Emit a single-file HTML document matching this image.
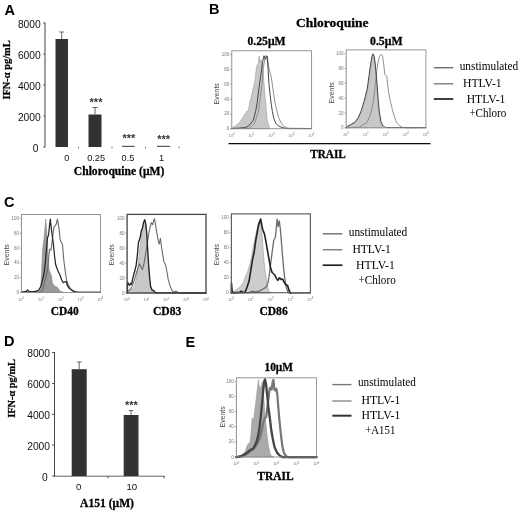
<!DOCTYPE html>
<html><head><meta charset="utf-8"><title>Figure</title>
<style>
html,body{margin:0;padding:0;background:#fff;}
body{width:520px;height:511px;overflow:hidden;font-family:"Liberation Sans",sans-serif;}
svg{display:block;}
</style></head><body>
<svg width="520" height="511" viewBox="0 0 520 511">
<rect width="520" height="511" fill="#fff"/>
<defs><filter id="bl" x="-2%" y="-2%" width="104%" height="104%"><feGaussianBlur stdDeviation="0.45"/></filter></defs>
<g id="all" filter="url(#bl)">
<text x="4.4" y="15" font-family="'Liberation Sans', sans-serif" font-size="14.5" font-weight="bold" text-anchor="start" fill="#000" >A</text>
<text x="208.9" y="14.2" font-family="'Liberation Sans', sans-serif" font-size="14.5" font-weight="bold" text-anchor="start" fill="#000" >B</text>
<text x="4.0" y="207" font-family="'Liberation Sans', sans-serif" font-size="14.5" font-weight="bold" text-anchor="start" fill="#000" >C</text>
<text x="4.0" y="345.6" font-family="'Liberation Sans', sans-serif" font-size="14.5" font-weight="bold" text-anchor="start" fill="#000" >D</text>
<text x="185.6" y="346.8" font-family="'Liberation Sans', sans-serif" font-size="14.5" font-weight="bold" text-anchor="start" fill="#000" >E</text>
<line x1="45" y1="22.5" x2="45" y2="147.5" stroke="#444" stroke-width="1"/>
<line x1="43.3" y1="147" x2="45" y2="147" stroke="#444" stroke-width="0.9"/>
<text x="38.5" y="152.2" font-family="'Liberation Sans', sans-serif" font-size="10.25" font-weight="normal" text-anchor="end" fill="#111" >0</text>
<line x1="43.3" y1="116" x2="45" y2="116" stroke="#444" stroke-width="0.9"/>
<text x="40.7" y="121.2" font-family="'Liberation Sans', sans-serif" font-size="10.25" font-weight="normal" text-anchor="end" fill="#111" >2000</text>
<line x1="43.3" y1="85" x2="45" y2="85" stroke="#444" stroke-width="0.9"/>
<text x="40.7" y="90.2" font-family="'Liberation Sans', sans-serif" font-size="10.25" font-weight="normal" text-anchor="end" fill="#111" >4000</text>
<line x1="43.3" y1="54" x2="45" y2="54" stroke="#444" stroke-width="0.9"/>
<text x="40.7" y="59.2" font-family="'Liberation Sans', sans-serif" font-size="10.25" font-weight="normal" text-anchor="end" fill="#111" >6000</text>
<line x1="43.3" y1="23" x2="45" y2="23" stroke="#444" stroke-width="0.9"/>
<text x="40.7" y="28.2" font-family="'Liberation Sans', sans-serif" font-size="10.25" font-weight="normal" text-anchor="end" fill="#111" >8000</text>
<line x1="78.5" y1="146.6" x2="78.5" y2="148.4" stroke="#666" stroke-width="0.9"/>
<line x1="112" y1="146.6" x2="112" y2="148.4" stroke="#666" stroke-width="0.9"/>
<line x1="145.5" y1="146.6" x2="145.5" y2="148.4" stroke="#666" stroke-width="0.9"/>
<line x1="179" y1="146.6" x2="179" y2="148.4" stroke="#666" stroke-width="0.9"/>
<rect x="55.5" y="39" width="12.5" height="108" fill="#333"/>
<line x1="61.7" y1="32" x2="61.7" y2="39" stroke="#555" stroke-width="0.9"/><line x1="59.2" y1="32" x2="64.2" y2="32" stroke="#555" stroke-width="0.9"/>
<rect x="88.5" y="114.5" width="13" height="32.5" fill="#333"/>
<line x1="95" y1="107.5" x2="95" y2="114.5" stroke="#555" stroke-width="0.9"/><line x1="92.5" y1="107.5" x2="97.5" y2="107.5" stroke="#555" stroke-width="0.9"/>
<line x1="122" y1="146.3" x2="134.5" y2="146.3" stroke="#333" stroke-width="1"/>
<line x1="157" y1="146.3" x2="170" y2="146.3" stroke="#333" stroke-width="1"/>
<text x="96" y="105.6" font-family="'Liberation Sans', sans-serif" font-size="11" font-weight="bold" text-anchor="middle" fill="#333" >***</text>
<text x="128.8" y="142.2" font-family="'Liberation Sans', sans-serif" font-size="11" font-weight="bold" text-anchor="middle" fill="#333" >***</text>
<text x="163.6" y="143.3" font-family="'Liberation Sans', sans-serif" font-size="11" font-weight="bold" text-anchor="middle" fill="#333" >***</text>
<text x="66.8" y="160.5" font-family="'Liberation Sans', sans-serif" font-size="9.2" font-weight="normal" text-anchor="middle" fill="#111" >0</text>
<text x="96.1" y="160.5" font-family="'Liberation Sans', sans-serif" font-size="9.2" font-weight="normal" text-anchor="middle" fill="#111" >0.25</text>
<text x="128" y="160.5" font-family="'Liberation Sans', sans-serif" font-size="9.2" font-weight="normal" text-anchor="middle" fill="#111" >0.5</text>
<text x="161.6" y="160.5" font-family="'Liberation Sans', sans-serif" font-size="9.2" font-weight="normal" text-anchor="middle" fill="#111" >1</text>
<text x="73.8" y="175.4" font-family="'Liberation Serif', serif" font-size="12" font-weight="bold" text-anchor="start" fill="#000" textLength="90.5" lengthAdjust="spacingAndGlyphs"  stroke="#000" stroke-width="0.3">Chloroquine (μM)</text>
<text transform="translate(10.3,70) rotate(-90)" font-family="'Liberation Serif', serif" font-size="10.4" font-weight="bold" fill="#000" stroke="#000" stroke-width="0.25" text-anchor="middle" textLength="59.2" lengthAdjust="spacingAndGlyphs">IFN-α pg/mL</text>
<line x1="54.5" y1="352" x2="54.5" y2="476.5" stroke="#444" stroke-width="1"/>
<line x1="54" y1="476.2" x2="164.5" y2="476.2" stroke="#444" stroke-width="0.85"/>
<line x1="52" y1="476" x2="54.5" y2="476" stroke="#444" stroke-width="0.9"/>
<text x="47.6" y="480.6" font-family="'Liberation Sans', sans-serif" font-size="10.25" font-weight="normal" text-anchor="end" fill="#111" >0</text>
<line x1="52" y1="445" x2="54.5" y2="445" stroke="#444" stroke-width="0.9"/>
<text x="50" y="449.6" font-family="'Liberation Sans', sans-serif" font-size="10.25" font-weight="normal" text-anchor="end" fill="#111" >2000</text>
<line x1="52" y1="414.3" x2="54.5" y2="414.3" stroke="#444" stroke-width="0.9"/>
<text x="50" y="418.90000000000003" font-family="'Liberation Sans', sans-serif" font-size="10.25" font-weight="normal" text-anchor="end" fill="#111" >4000</text>
<line x1="52" y1="383.5" x2="54.5" y2="383.5" stroke="#444" stroke-width="0.9"/>
<text x="50" y="388.1" font-family="'Liberation Sans', sans-serif" font-size="10.25" font-weight="normal" text-anchor="end" fill="#111" >6000</text>
<line x1="52" y1="352.5" x2="54.5" y2="352.5" stroke="#444" stroke-width="0.9"/>
<text x="50" y="357.1" font-family="'Liberation Sans', sans-serif" font-size="10.25" font-weight="normal" text-anchor="end" fill="#111" >8000</text>
<line x1="108" y1="476" x2="108" y2="478.3" stroke="#444" stroke-width="0.9"/>
<line x1="164.2" y1="476" x2="164.2" y2="478.3" stroke="#444" stroke-width="0.9"/>
<rect x="71.7" y="369.2" width="15" height="106.8" fill="#333"/>
<line x1="79.2" y1="362" x2="79.2" y2="369" stroke="#555" stroke-width="0.9"/><line x1="77" y1="362" x2="81.5" y2="362" stroke="#555" stroke-width="0.9"/>
<rect x="123.7" y="415" width="14.8" height="61" fill="#333"/>
<line x1="131" y1="410.5" x2="131" y2="415" stroke="#555" stroke-width="0.9"/><line x1="128.8" y1="410.5" x2="133.2" y2="410.5" stroke="#555" stroke-width="0.9"/>
<text x="131.4" y="409.2" font-family="'Liberation Sans', sans-serif" font-size="11" font-weight="bold" text-anchor="middle" fill="#333" >***</text>
<text x="78.8" y="489.5" font-family="'Liberation Sans', sans-serif" font-size="9.7" font-weight="normal" text-anchor="middle" fill="#111" >0</text>
<text x="131.8" y="489.5" font-family="'Liberation Sans', sans-serif" font-size="9.7" font-weight="normal" text-anchor="middle" fill="#111" >10</text>
<text x="80" y="507" font-family="'Liberation Serif', serif" font-size="12.5" font-weight="bold" text-anchor="start" fill="#000" textLength="54" lengthAdjust="spacingAndGlyphs"  stroke="#000" stroke-width="0.3">A151 (μM)</text>
<text transform="translate(15,388.4) rotate(-90)" font-family="'Liberation Serif', serif" font-size="10.4" font-weight="bold" fill="#000" stroke="#000" stroke-width="0.25" text-anchor="middle" textLength="58.7" lengthAdjust="spacingAndGlyphs">IFN-α pg/mL</text>
<text x="296" y="27" font-family="'Liberation Serif', serif" font-size="13.5" font-weight="bold" text-anchor="start" fill="#000" textLength="72.4" lengthAdjust="spacingAndGlyphs"  stroke="#000" stroke-width="0.3">Chloroquine</text>
<text x="247.5" y="45.1" font-family="'Liberation Serif', serif" font-size="12.5" font-weight="bold" text-anchor="start" fill="#000" textLength="38" lengthAdjust="spacingAndGlyphs"  stroke="#000" stroke-width="0.3">0.25μM</text>
<text x="370" y="45.1" font-family="'Liberation Serif', serif" font-size="12.5" font-weight="bold" text-anchor="start" fill="#000" textLength="32.5" lengthAdjust="spacingAndGlyphs"  stroke="#000" stroke-width="0.3">0.5μM</text>
<line x1="228.5" y1="143.6" x2="430.5" y2="143.6" stroke="#111" stroke-width="1.4"/>
<text x="310.2" y="158.2" font-family="'Liberation Serif', serif" font-size="12" font-weight="bold" text-anchor="start" fill="#000" textLength="35.6" lengthAdjust="spacingAndGlyphs"  stroke="#000" stroke-width="0.3">TRAIL</text>
<polygon points="231.7,128.7 231.7,127.8 235.7,125.8 239.6,122.3 243.5,116.4 246.4,111.5 248.4,110.5 249.7,102.7 251.3,96.8 253.3,88.0 255.2,79.2 256.4,67.5 257.2,65.5 258.2,63.6 259.1,56.1 260.1,62.0 261.5,59.7 262.7,67.5 264.0,83.1 265.4,100.8 267.0,118.4 268.5,125.2 270.1,128.7" fill="#c8c8c8" stroke="#999" stroke-width="0.6" stroke-linejoin="round"/>
<polyline points="231.7,128.7 249.4,128.1 254.2,124.2 258.2,112.5 260.1,98.8 262.1,83.1 263.4,67.5 265.0,57.7 266.2,55.4 267.4,56.5 268.5,65.5 269.7,71.4 271.3,77.3 272.4,85.1 273.8,94.9 275.2,103.7 276.8,110.5 278.7,117.4 280.7,122.3 283.6,126.2 286.5,128.1 290.5,128.7 311.6,128.7" fill="none" stroke="#858585" stroke-width="0.9" stroke-linejoin="round" stroke-linecap="round"/>
<polyline points="231.7,128.5 239.6,128.1 245.4,127.6 249.4,125.2 253.3,120.3 255.6,111.5 257.2,102.7 259.1,87.1 261.1,73.4 262.7,61.6 264.0,55.7 265.4,59.3 267.0,56.1 268.1,69.4 268.9,83.1 270.1,94.9 271.3,104.7 272.4,111.5 273.8,118.4 275.8,123.3 278.7,126.2 284.6,128.3 311.6,128.5" fill="none" stroke="#444" stroke-width="1.0" stroke-linejoin="round" stroke-linecap="round"/>
<rect x="231.8" y="50.8" width="79.80000000000001" height="77.89999999999999" fill="none" stroke="#8a8a8a" stroke-width="0.9"/>
<line x1="230.0" y1="128.7" x2="231.8" y2="128.7" stroke="#777" stroke-width="0.6"/>
<text x="229.2" y="130.2" font-family="'Liberation Sans', sans-serif" font-size="4.5" font-weight="normal" text-anchor="end" fill="#777" >0</text>
<line x1="230.0" y1="113.9" x2="231.8" y2="113.9" stroke="#777" stroke-width="0.6"/>
<text x="229.2" y="115.4" font-family="'Liberation Sans', sans-serif" font-size="4.5" font-weight="normal" text-anchor="end" fill="#777" >20</text>
<line x1="230.0" y1="99.1" x2="231.8" y2="99.1" stroke="#777" stroke-width="0.6"/>
<text x="229.2" y="100.6" font-family="'Liberation Sans', sans-serif" font-size="4.5" font-weight="normal" text-anchor="end" fill="#777" >40</text>
<line x1="230.0" y1="84.2" x2="231.8" y2="84.2" stroke="#777" stroke-width="0.6"/>
<text x="229.2" y="85.7" font-family="'Liberation Sans', sans-serif" font-size="4.5" font-weight="normal" text-anchor="end" fill="#777" >60</text>
<line x1="230.0" y1="69.4" x2="231.8" y2="69.4" stroke="#777" stroke-width="0.6"/>
<text x="229.2" y="70.9" font-family="'Liberation Sans', sans-serif" font-size="4.5" font-weight="normal" text-anchor="end" fill="#777" >80</text>
<line x1="230.0" y1="54.6" x2="231.8" y2="54.6" stroke="#777" stroke-width="0.6"/>
<text x="229.2" y="56.1" font-family="'Liberation Sans', sans-serif" font-size="4.5" font-weight="normal" text-anchor="end" fill="#777" >100</text>
<line x1="230.8" y1="128.7" x2="231.8" y2="128.7" stroke="#999" stroke-width="0.4"/>
<line x1="230.8" y1="125.7" x2="231.8" y2="125.7" stroke="#999" stroke-width="0.4"/>
<line x1="230.8" y1="122.8" x2="231.8" y2="122.8" stroke="#999" stroke-width="0.4"/>
<line x1="230.8" y1="119.8" x2="231.8" y2="119.8" stroke="#999" stroke-width="0.4"/>
<line x1="230.8" y1="116.8" x2="231.8" y2="116.8" stroke="#999" stroke-width="0.4"/>
<line x1="230.8" y1="113.9" x2="231.8" y2="113.9" stroke="#999" stroke-width="0.4"/>
<line x1="230.8" y1="110.9" x2="231.8" y2="110.9" stroke="#999" stroke-width="0.4"/>
<line x1="230.8" y1="108.0" x2="231.8" y2="108.0" stroke="#999" stroke-width="0.4"/>
<line x1="230.8" y1="105.0" x2="231.8" y2="105.0" stroke="#999" stroke-width="0.4"/>
<line x1="230.8" y1="102.0" x2="231.8" y2="102.0" stroke="#999" stroke-width="0.4"/>
<line x1="230.8" y1="99.1" x2="231.8" y2="99.1" stroke="#999" stroke-width="0.4"/>
<line x1="230.8" y1="96.1" x2="231.8" y2="96.1" stroke="#999" stroke-width="0.4"/>
<line x1="230.8" y1="93.1" x2="231.8" y2="93.1" stroke="#999" stroke-width="0.4"/>
<line x1="230.8" y1="90.2" x2="231.8" y2="90.2" stroke="#999" stroke-width="0.4"/>
<line x1="230.8" y1="87.2" x2="231.8" y2="87.2" stroke="#999" stroke-width="0.4"/>
<line x1="230.8" y1="84.2" x2="231.8" y2="84.2" stroke="#999" stroke-width="0.4"/>
<line x1="230.8" y1="81.3" x2="231.8" y2="81.3" stroke="#999" stroke-width="0.4"/>
<line x1="230.8" y1="78.3" x2="231.8" y2="78.3" stroke="#999" stroke-width="0.4"/>
<line x1="230.8" y1="75.3" x2="231.8" y2="75.3" stroke="#999" stroke-width="0.4"/>
<line x1="230.8" y1="72.4" x2="231.8" y2="72.4" stroke="#999" stroke-width="0.4"/>
<line x1="230.8" y1="69.4" x2="231.8" y2="69.4" stroke="#999" stroke-width="0.4"/>
<line x1="230.8" y1="66.5" x2="231.8" y2="66.5" stroke="#999" stroke-width="0.4"/>
<line x1="230.8" y1="63.5" x2="231.8" y2="63.5" stroke="#999" stroke-width="0.4"/>
<line x1="230.8" y1="60.5" x2="231.8" y2="60.5" stroke="#999" stroke-width="0.4"/>
<line x1="230.8" y1="57.6" x2="231.8" y2="57.6" stroke="#999" stroke-width="0.4"/>
<line x1="230.8" y1="54.6" x2="231.8" y2="54.6" stroke="#999" stroke-width="0.4"/>
<text x="231.5" y="137.1" font-family="'Liberation Sans', sans-serif" font-size="3.8" fill="#808080" text-anchor="middle" font-style="italic">10<tspan dy="-1.9" font-size="3">0</tspan></text>
<text x="251.4" y="137.1" font-family="'Liberation Sans', sans-serif" font-size="3.8" fill="#808080" text-anchor="middle" font-style="italic">10<tspan dy="-1.9" font-size="3">1</tspan></text>
<text x="271.4" y="137.1" font-family="'Liberation Sans', sans-serif" font-size="3.8" fill="#808080" text-anchor="middle" font-style="italic">10<tspan dy="-1.9" font-size="3">2</tspan></text>
<text x="291.4" y="137.1" font-family="'Liberation Sans', sans-serif" font-size="3.8" fill="#808080" text-anchor="middle" font-style="italic">10<tspan dy="-1.9" font-size="3">3</tspan></text>
<text x="311.3" y="137.1" font-family="'Liberation Sans', sans-serif" font-size="3.8" fill="#808080" text-anchor="middle" font-style="italic">10<tspan dy="-1.9" font-size="3">4</tspan></text>
<text transform="translate(219.1,93.8) rotate(-90)" font-family="'Liberation Sans', sans-serif" font-size="7.2" fill="#4a4a4a" text-anchor="middle" textLength="21.2" lengthAdjust="spacingAndGlyphs">Events</text>
<polygon points="346.0,127.8 346.0,127.2 349.6,125.8 353.5,123.3 357.4,119.3 361.3,112.5 363.3,106.6 366.2,96.8 368.2,86.1 370.1,73.4 371.5,61.6 372.7,54.6 373.8,57.7 375.0,63.6 376.6,83.1 377.9,102.7 379.3,116.4 380.9,124.2 382.8,127.8" fill="#c8c8c8" stroke="#999" stroke-width="0.6" stroke-linejoin="round"/>
<polyline points="346.0,127.8 359.4,127.2 364.2,124.2 367.2,122.3 370.1,115.4 372.1,108.6 374.0,96.8 375.4,83.1 377.0,69.4 378.1,61.6 379.7,56.1 381.3,54.2 382.4,55.7 383.4,61.6 384.8,74.3 386.8,76.3 387.7,85.1 388.7,92.9 390.7,102.7 392.6,110.5 394.6,117.4 396.5,122.3 399.5,125.8 402.4,127.4 406.3,127.8 425.9,127.8" fill="none" stroke="#858585" stroke-width="0.9" stroke-linejoin="round" stroke-linecap="round"/>
<polyline points="346.0,127.6 347.6,126.2 351.5,124.2 355.4,121.9 358.4,117.4 361.3,110.5 364.2,100.8 367.2,89.0 369.1,75.3 370.7,63.6 371.9,56.7 373.1,53.8 374.2,56.1 375.4,65.5 377.0,83.1 378.1,98.8 379.3,111.5 380.9,121.3 382.8,125.8 385.8,127.6 425.9,127.6" fill="none" stroke="#444" stroke-width="1.0" stroke-linejoin="round" stroke-linecap="round"/>
<rect x="346.2" y="49.9" width="79.69999999999999" height="77.9" fill="none" stroke="#8a8a8a" stroke-width="0.9"/>
<line x1="344.4" y1="127.8" x2="346.2" y2="127.8" stroke="#777" stroke-width="0.6"/>
<text x="343.6" y="129.3" font-family="'Liberation Sans', sans-serif" font-size="4.5" font-weight="normal" text-anchor="end" fill="#777" >0</text>
<line x1="344.4" y1="113.0" x2="346.2" y2="113.0" stroke="#777" stroke-width="0.6"/>
<text x="343.6" y="114.5" font-family="'Liberation Sans', sans-serif" font-size="4.5" font-weight="normal" text-anchor="end" fill="#777" >20</text>
<line x1="344.4" y1="98.2" x2="346.2" y2="98.2" stroke="#777" stroke-width="0.6"/>
<text x="343.6" y="99.7" font-family="'Liberation Sans', sans-serif" font-size="4.5" font-weight="normal" text-anchor="end" fill="#777" >40</text>
<line x1="344.4" y1="83.3" x2="346.2" y2="83.3" stroke="#777" stroke-width="0.6"/>
<text x="343.6" y="84.8" font-family="'Liberation Sans', sans-serif" font-size="4.5" font-weight="normal" text-anchor="end" fill="#777" >60</text>
<line x1="344.4" y1="68.5" x2="346.2" y2="68.5" stroke="#777" stroke-width="0.6"/>
<text x="343.6" y="70.0" font-family="'Liberation Sans', sans-serif" font-size="4.5" font-weight="normal" text-anchor="end" fill="#777" >80</text>
<line x1="344.4" y1="53.7" x2="346.2" y2="53.7" stroke="#777" stroke-width="0.6"/>
<text x="343.6" y="55.2" font-family="'Liberation Sans', sans-serif" font-size="4.5" font-weight="normal" text-anchor="end" fill="#777" >100</text>
<line x1="345.2" y1="127.8" x2="346.2" y2="127.8" stroke="#999" stroke-width="0.4"/>
<line x1="345.2" y1="124.8" x2="346.2" y2="124.8" stroke="#999" stroke-width="0.4"/>
<line x1="345.2" y1="121.9" x2="346.2" y2="121.9" stroke="#999" stroke-width="0.4"/>
<line x1="345.2" y1="118.9" x2="346.2" y2="118.9" stroke="#999" stroke-width="0.4"/>
<line x1="345.2" y1="115.9" x2="346.2" y2="115.9" stroke="#999" stroke-width="0.4"/>
<line x1="345.2" y1="113.0" x2="346.2" y2="113.0" stroke="#999" stroke-width="0.4"/>
<line x1="345.2" y1="110.0" x2="346.2" y2="110.0" stroke="#999" stroke-width="0.4"/>
<line x1="345.2" y1="107.1" x2="346.2" y2="107.1" stroke="#999" stroke-width="0.4"/>
<line x1="345.2" y1="104.1" x2="346.2" y2="104.1" stroke="#999" stroke-width="0.4"/>
<line x1="345.2" y1="101.1" x2="346.2" y2="101.1" stroke="#999" stroke-width="0.4"/>
<line x1="345.2" y1="98.2" x2="346.2" y2="98.2" stroke="#999" stroke-width="0.4"/>
<line x1="345.2" y1="95.2" x2="346.2" y2="95.2" stroke="#999" stroke-width="0.4"/>
<line x1="345.2" y1="92.2" x2="346.2" y2="92.2" stroke="#999" stroke-width="0.4"/>
<line x1="345.2" y1="89.3" x2="346.2" y2="89.3" stroke="#999" stroke-width="0.4"/>
<line x1="345.2" y1="86.3" x2="346.2" y2="86.3" stroke="#999" stroke-width="0.4"/>
<line x1="345.2" y1="83.3" x2="346.2" y2="83.3" stroke="#999" stroke-width="0.4"/>
<line x1="345.2" y1="80.4" x2="346.2" y2="80.4" stroke="#999" stroke-width="0.4"/>
<line x1="345.2" y1="77.4" x2="346.2" y2="77.4" stroke="#999" stroke-width="0.4"/>
<line x1="345.2" y1="74.4" x2="346.2" y2="74.4" stroke="#999" stroke-width="0.4"/>
<line x1="345.2" y1="71.5" x2="346.2" y2="71.5" stroke="#999" stroke-width="0.4"/>
<line x1="345.2" y1="68.5" x2="346.2" y2="68.5" stroke="#999" stroke-width="0.4"/>
<line x1="345.2" y1="65.6" x2="346.2" y2="65.6" stroke="#999" stroke-width="0.4"/>
<line x1="345.2" y1="62.6" x2="346.2" y2="62.6" stroke="#999" stroke-width="0.4"/>
<line x1="345.2" y1="59.6" x2="346.2" y2="59.6" stroke="#999" stroke-width="0.4"/>
<line x1="345.2" y1="56.7" x2="346.2" y2="56.7" stroke="#999" stroke-width="0.4"/>
<line x1="345.2" y1="53.7" x2="346.2" y2="53.7" stroke="#999" stroke-width="0.4"/>
<text x="345.9" y="136.2" font-family="'Liberation Sans', sans-serif" font-size="3.8" fill="#808080" text-anchor="middle" font-style="italic">10<tspan dy="-1.9" font-size="3">0</tspan></text>
<text x="365.8" y="136.2" font-family="'Liberation Sans', sans-serif" font-size="3.8" fill="#808080" text-anchor="middle" font-style="italic">10<tspan dy="-1.9" font-size="3">1</tspan></text>
<text x="385.7" y="136.2" font-family="'Liberation Sans', sans-serif" font-size="3.8" fill="#808080" text-anchor="middle" font-style="italic">10<tspan dy="-1.9" font-size="3">2</tspan></text>
<text x="405.7" y="136.2" font-family="'Liberation Sans', sans-serif" font-size="3.8" fill="#808080" text-anchor="middle" font-style="italic">10<tspan dy="-1.9" font-size="3">3</tspan></text>
<text x="425.6" y="136.2" font-family="'Liberation Sans', sans-serif" font-size="3.8" fill="#808080" text-anchor="middle" font-style="italic">10<tspan dy="-1.9" font-size="3">4</tspan></text>
<text transform="translate(333.5,92.8) rotate(-90)" font-family="'Liberation Sans', sans-serif" font-size="7.2" fill="#4a4a4a" text-anchor="middle" textLength="21.2" lengthAdjust="spacingAndGlyphs">Events</text>
<line x1="433.8" y1="67.7" x2="453.3" y2="67.7" stroke="#707070" stroke-width="1.45"/>
<line x1="433.8" y1="83.8" x2="453.3" y2="83.8" stroke="#808080" stroke-width="1.45"/>
<line x1="433.8" y1="99" x2="453.3" y2="99" stroke="#222" stroke-width="1.7"/>
<text x="459.7" y="69.5" font-family="'Liberation Serif', serif" font-size="11.6" font-weight="normal" text-anchor="start" fill="#000" textLength="58.5" lengthAdjust="spacingAndGlyphs" >unstimulated</text>
<text x="463" y="86.5" font-family="'Liberation Serif', serif" font-size="11.6" font-weight="normal" text-anchor="start" fill="#000" textLength="38.7" lengthAdjust="spacingAndGlyphs" >HTLV-1</text>
<text x="466.7" y="102.6" font-family="'Liberation Serif', serif" font-size="11.6" font-weight="normal" text-anchor="start" fill="#000" textLength="38.7" lengthAdjust="spacingAndGlyphs" >HTLV-1</text>
<text x="469.4" y="117.2" font-family="'Liberation Serif', serif" font-size="11.6" font-weight="normal" text-anchor="start" fill="#000" textLength="36.9" lengthAdjust="spacingAndGlyphs" >+Chloro</text>
<polygon points="39.1,292.3 40.8,288.1 41.6,273.2 42.5,251.6 43.3,243.2 44.1,238.3 44.9,228.3 45.8,219.1 46.6,229.9 47.4,239.9 48.3,259.9 49.1,269.8 50.8,274.0 51.6,276.5 52.4,283.1 54.1,285.6 55.7,286.5 57.4,287.3 59.1,289.8 60.7,291.4 63.2,292.3" fill="#9a9a9a" stroke="#888" stroke-width="0.6" stroke-linejoin="round"/>
<polyline points="21.5,292.3 41.6,291.9 43.3,288.1 44.9,279.8 46.6,274.8 47.9,266.5 49.1,253.2 49.9,249.1 51.1,249.9 51.9,243.2 52.9,234.9 54.1,226.6 55.2,225.8 56.2,224.1 57.4,219.1 58.2,223.3 59.1,229.1 60.2,239.9 61.6,242.4 62.6,245.7 63.6,258.2 64.6,266.5 65.7,274.8 66.9,281.5 68.5,285.6 70.7,288.9 73.2,291.1 76.5,292.3 100.3,292.3" fill="none" stroke="#6a6a6a" stroke-width="1.1" stroke-linejoin="round" stroke-linecap="round"/>
<polyline points="21.5,291.9 25.0,291.9 26.3,291.4 27.5,289.8 28.7,291.4 31.6,291.9 35.0,291.4 38.3,290.6 40.8,286.5 42.5,279.8 44.1,273.2 45.3,263.2 46.3,251.6 47.4,238.3 48.6,234.9 49.4,226.6 50.3,219.1 51.1,226.6 51.9,233.3 53.3,243.2 54.6,256.5 55.7,264.8 56.9,268.2 58.2,271.5 59.9,274.8 61.6,279.8 63.2,282.8 64.9,281.8 66.2,281.5 67.4,285.6 69.0,288.1 71.5,290.1 74.9,291.8 79.8,292.3 100.3,292.3" fill="none" stroke="#222" stroke-width="1.2" stroke-linejoin="round" stroke-linecap="round"/>
<rect x="21.5" y="214.5" width="79.0" height="78.0" fill="none" stroke="#8a8a8a" stroke-width="0.9"/>
<line x1="19.7" y1="292.5" x2="21.5" y2="292.5" stroke="#777" stroke-width="0.6"/>
<text x="18.9" y="294.0" font-family="'Liberation Sans', sans-serif" font-size="4.5" font-weight="normal" text-anchor="end" fill="#777" >0</text>
<line x1="19.7" y1="277.7" x2="21.5" y2="277.7" stroke="#777" stroke-width="0.6"/>
<text x="18.9" y="279.2" font-family="'Liberation Sans', sans-serif" font-size="4.5" font-weight="normal" text-anchor="end" fill="#777" >20</text>
<line x1="19.7" y1="262.8" x2="21.5" y2="262.8" stroke="#777" stroke-width="0.6"/>
<text x="18.9" y="264.3" font-family="'Liberation Sans', sans-serif" font-size="4.5" font-weight="normal" text-anchor="end" fill="#777" >40</text>
<line x1="19.7" y1="248.0" x2="21.5" y2="248.0" stroke="#777" stroke-width="0.6"/>
<text x="18.9" y="249.5" font-family="'Liberation Sans', sans-serif" font-size="4.5" font-weight="normal" text-anchor="end" fill="#777" >60</text>
<line x1="19.7" y1="233.1" x2="21.5" y2="233.1" stroke="#777" stroke-width="0.6"/>
<text x="18.9" y="234.6" font-family="'Liberation Sans', sans-serif" font-size="4.5" font-weight="normal" text-anchor="end" fill="#777" >80</text>
<line x1="19.7" y1="218.3" x2="21.5" y2="218.3" stroke="#777" stroke-width="0.6"/>
<text x="18.9" y="219.8" font-family="'Liberation Sans', sans-serif" font-size="4.5" font-weight="normal" text-anchor="end" fill="#777" >100</text>
<line x1="20.5" y1="292.5" x2="21.5" y2="292.5" stroke="#999" stroke-width="0.4"/>
<line x1="20.5" y1="289.5" x2="21.5" y2="289.5" stroke="#999" stroke-width="0.4"/>
<line x1="20.5" y1="286.6" x2="21.5" y2="286.6" stroke="#999" stroke-width="0.4"/>
<line x1="20.5" y1="283.6" x2="21.5" y2="283.6" stroke="#999" stroke-width="0.4"/>
<line x1="20.5" y1="280.6" x2="21.5" y2="280.6" stroke="#999" stroke-width="0.4"/>
<line x1="20.5" y1="277.7" x2="21.5" y2="277.7" stroke="#999" stroke-width="0.4"/>
<line x1="20.5" y1="274.7" x2="21.5" y2="274.7" stroke="#999" stroke-width="0.4"/>
<line x1="20.5" y1="271.7" x2="21.5" y2="271.7" stroke="#999" stroke-width="0.4"/>
<line x1="20.5" y1="268.8" x2="21.5" y2="268.8" stroke="#999" stroke-width="0.4"/>
<line x1="20.5" y1="265.8" x2="21.5" y2="265.8" stroke="#999" stroke-width="0.4"/>
<line x1="20.5" y1="262.8" x2="21.5" y2="262.8" stroke="#999" stroke-width="0.4"/>
<line x1="20.5" y1="259.9" x2="21.5" y2="259.9" stroke="#999" stroke-width="0.4"/>
<line x1="20.5" y1="256.9" x2="21.5" y2="256.9" stroke="#999" stroke-width="0.4"/>
<line x1="20.5" y1="253.9" x2="21.5" y2="253.9" stroke="#999" stroke-width="0.4"/>
<line x1="20.5" y1="250.9" x2="21.5" y2="250.9" stroke="#999" stroke-width="0.4"/>
<line x1="20.5" y1="248.0" x2="21.5" y2="248.0" stroke="#999" stroke-width="0.4"/>
<line x1="20.5" y1="245.0" x2="21.5" y2="245.0" stroke="#999" stroke-width="0.4"/>
<line x1="20.5" y1="242.0" x2="21.5" y2="242.0" stroke="#999" stroke-width="0.4"/>
<line x1="20.5" y1="239.1" x2="21.5" y2="239.1" stroke="#999" stroke-width="0.4"/>
<line x1="20.5" y1="236.1" x2="21.5" y2="236.1" stroke="#999" stroke-width="0.4"/>
<line x1="20.5" y1="233.1" x2="21.5" y2="233.1" stroke="#999" stroke-width="0.4"/>
<line x1="20.5" y1="230.2" x2="21.5" y2="230.2" stroke="#999" stroke-width="0.4"/>
<line x1="20.5" y1="227.2" x2="21.5" y2="227.2" stroke="#999" stroke-width="0.4"/>
<line x1="20.5" y1="224.2" x2="21.5" y2="224.2" stroke="#999" stroke-width="0.4"/>
<line x1="20.5" y1="221.3" x2="21.5" y2="221.3" stroke="#999" stroke-width="0.4"/>
<line x1="20.5" y1="218.3" x2="21.5" y2="218.3" stroke="#999" stroke-width="0.4"/>
<text x="21.2" y="300.9" font-family="'Liberation Sans', sans-serif" font-size="3.8" fill="#808080" text-anchor="middle" font-style="italic">10<tspan dy="-1.9" font-size="3">0</tspan></text>
<text x="41.0" y="300.9" font-family="'Liberation Sans', sans-serif" font-size="3.8" fill="#808080" text-anchor="middle" font-style="italic">10<tspan dy="-1.9" font-size="3">1</tspan></text>
<text x="60.7" y="300.9" font-family="'Liberation Sans', sans-serif" font-size="3.8" fill="#808080" text-anchor="middle" font-style="italic">10<tspan dy="-1.9" font-size="3">2</tspan></text>
<text x="80.5" y="300.9" font-family="'Liberation Sans', sans-serif" font-size="3.8" fill="#808080" text-anchor="middle" font-style="italic">10<tspan dy="-1.9" font-size="3">3</tspan></text>
<text x="100.2" y="300.9" font-family="'Liberation Sans', sans-serif" font-size="3.8" fill="#808080" text-anchor="middle" font-style="italic">10<tspan dy="-1.9" font-size="3">4</tspan></text>
<text transform="translate(8.8,254.8) rotate(-90)" font-family="'Liberation Sans', sans-serif" font-size="7.2" fill="#4a4a4a" text-anchor="middle" textLength="21.2" lengthAdjust="spacingAndGlyphs">Events</text>
<polygon points="127.1,293.1 127.1,292.7 128.7,291.1 131.6,289.5 134.6,286.2 136.1,279.4 137.5,271.5 138.9,257.8 140.4,244.1 141.6,234.4 142.8,226.5 144.0,221.6 144.9,220.3 145.9,224.6 146.9,236.3 147.9,253.9 148.9,269.6 150.2,283.3 151.8,289.5 154.1,292.5 156.1,293.1" fill="#c8c8c8" stroke="#999" stroke-width="0.6" stroke-linejoin="round"/>
<polyline points="127.1,292.7 128.3,290.7 130.3,289.5 132.6,285.2 134.6,279.4 136.5,272.5 138.1,267.6 139.5,263.7 140.8,266.6 142.4,269.6 144.0,263.7 145.3,255.9 146.7,247.1 148.3,236.3 149.8,228.5 151.2,222.6 152.6,224.6 153.6,220.7 154.5,218.7 155.5,224.6 156.7,232.4 158.1,240.2 159.2,244.1 160.4,238.3 161.4,246.1 162.6,253.9 163.9,261.8 165.5,264.7 166.9,271.5 168.2,279.4 169.8,285.2 171.8,290.1 173.7,292.1 176.1,291.1 178.0,292.5 180.6,293.1 206.0,293.1" fill="none" stroke="#6a6a6a" stroke-width="1.1" stroke-linejoin="round" stroke-linecap="round"/>
<polyline points="127.3,292.9 127.7,282.3 128.7,284.3 129.7,285.2 130.7,283.3 131.6,284.3 133.0,277.4 134.6,271.5 136.1,265.7 137.3,255.9 138.5,242.2 140.0,238.3 141.4,230.4 142.4,228.5 143.4,223.0 144.7,219.7 145.7,223.6 146.7,232.4 147.7,250.0 148.7,265.7 149.6,277.4 150.6,286.8 152.2,290.1 153.7,290.7 155.1,292.3 158.1,292.9 206.0,292.9" fill="none" stroke="#222" stroke-width="1.3" stroke-linejoin="round" stroke-linecap="round"/>
<rect x="127.1" y="214.4" width="78.9" height="78.6" fill="none" stroke="#444" stroke-width="1.3"/>
<line x1="125.3" y1="293.0" x2="127.1" y2="293.0" stroke="#777" stroke-width="0.6"/>
<text x="124.5" y="294.5" font-family="'Liberation Sans', sans-serif" font-size="4.5" font-weight="normal" text-anchor="end" fill="#777" >0</text>
<line x1="125.3" y1="278.0" x2="127.1" y2="278.0" stroke="#777" stroke-width="0.6"/>
<text x="124.5" y="279.5" font-family="'Liberation Sans', sans-serif" font-size="4.5" font-weight="normal" text-anchor="end" fill="#777" >20</text>
<line x1="125.3" y1="263.1" x2="127.1" y2="263.1" stroke="#777" stroke-width="0.6"/>
<text x="124.5" y="264.6" font-family="'Liberation Sans', sans-serif" font-size="4.5" font-weight="normal" text-anchor="end" fill="#777" >40</text>
<line x1="125.3" y1="248.1" x2="127.1" y2="248.1" stroke="#777" stroke-width="0.6"/>
<text x="124.5" y="249.6" font-family="'Liberation Sans', sans-serif" font-size="4.5" font-weight="normal" text-anchor="end" fill="#777" >60</text>
<line x1="125.3" y1="233.2" x2="127.1" y2="233.2" stroke="#777" stroke-width="0.6"/>
<text x="124.5" y="234.7" font-family="'Liberation Sans', sans-serif" font-size="4.5" font-weight="normal" text-anchor="end" fill="#777" >80</text>
<line x1="125.3" y1="218.2" x2="127.1" y2="218.2" stroke="#777" stroke-width="0.6"/>
<text x="124.5" y="219.7" font-family="'Liberation Sans', sans-serif" font-size="4.5" font-weight="normal" text-anchor="end" fill="#777" >100</text>
<line x1="126.1" y1="293.0" x2="127.1" y2="293.0" stroke="#999" stroke-width="0.4"/>
<line x1="126.1" y1="290.0" x2="127.1" y2="290.0" stroke="#999" stroke-width="0.4"/>
<line x1="126.1" y1="287.0" x2="127.1" y2="287.0" stroke="#999" stroke-width="0.4"/>
<line x1="126.1" y1="284.0" x2="127.1" y2="284.0" stroke="#999" stroke-width="0.4"/>
<line x1="126.1" y1="281.0" x2="127.1" y2="281.0" stroke="#999" stroke-width="0.4"/>
<line x1="126.1" y1="278.0" x2="127.1" y2="278.0" stroke="#999" stroke-width="0.4"/>
<line x1="126.1" y1="275.0" x2="127.1" y2="275.0" stroke="#999" stroke-width="0.4"/>
<line x1="126.1" y1="272.1" x2="127.1" y2="272.1" stroke="#999" stroke-width="0.4"/>
<line x1="126.1" y1="269.1" x2="127.1" y2="269.1" stroke="#999" stroke-width="0.4"/>
<line x1="126.1" y1="266.1" x2="127.1" y2="266.1" stroke="#999" stroke-width="0.4"/>
<line x1="126.1" y1="263.1" x2="127.1" y2="263.1" stroke="#999" stroke-width="0.4"/>
<line x1="126.1" y1="260.1" x2="127.1" y2="260.1" stroke="#999" stroke-width="0.4"/>
<line x1="126.1" y1="257.1" x2="127.1" y2="257.1" stroke="#999" stroke-width="0.4"/>
<line x1="126.1" y1="254.1" x2="127.1" y2="254.1" stroke="#999" stroke-width="0.4"/>
<line x1="126.1" y1="251.1" x2="127.1" y2="251.1" stroke="#999" stroke-width="0.4"/>
<line x1="126.1" y1="248.1" x2="127.1" y2="248.1" stroke="#999" stroke-width="0.4"/>
<line x1="126.1" y1="245.1" x2="127.1" y2="245.1" stroke="#999" stroke-width="0.4"/>
<line x1="126.1" y1="242.1" x2="127.1" y2="242.1" stroke="#999" stroke-width="0.4"/>
<line x1="126.1" y1="239.1" x2="127.1" y2="239.1" stroke="#999" stroke-width="0.4"/>
<line x1="126.1" y1="236.2" x2="127.1" y2="236.2" stroke="#999" stroke-width="0.4"/>
<line x1="126.1" y1="233.2" x2="127.1" y2="233.2" stroke="#999" stroke-width="0.4"/>
<line x1="126.1" y1="230.2" x2="127.1" y2="230.2" stroke="#999" stroke-width="0.4"/>
<line x1="126.1" y1="227.2" x2="127.1" y2="227.2" stroke="#999" stroke-width="0.4"/>
<line x1="126.1" y1="224.2" x2="127.1" y2="224.2" stroke="#999" stroke-width="0.4"/>
<line x1="126.1" y1="221.2" x2="127.1" y2="221.2" stroke="#999" stroke-width="0.4"/>
<line x1="126.1" y1="218.2" x2="127.1" y2="218.2" stroke="#999" stroke-width="0.4"/>
<text x="126.8" y="301.4" font-family="'Liberation Sans', sans-serif" font-size="3.8" fill="#808080" text-anchor="middle" font-style="italic">10<tspan dy="-1.9" font-size="3">0</tspan></text>
<text x="146.5" y="301.4" font-family="'Liberation Sans', sans-serif" font-size="3.8" fill="#808080" text-anchor="middle" font-style="italic">10<tspan dy="-1.9" font-size="3">1</tspan></text>
<text x="166.2" y="301.4" font-family="'Liberation Sans', sans-serif" font-size="3.8" fill="#808080" text-anchor="middle" font-style="italic">10<tspan dy="-1.9" font-size="3">2</tspan></text>
<text x="186.0" y="301.4" font-family="'Liberation Sans', sans-serif" font-size="3.8" fill="#808080" text-anchor="middle" font-style="italic">10<tspan dy="-1.9" font-size="3">3</tspan></text>
<text x="205.7" y="301.4" font-family="'Liberation Sans', sans-serif" font-size="3.8" fill="#808080" text-anchor="middle" font-style="italic">10<tspan dy="-1.9" font-size="3">4</tspan></text>
<text transform="translate(114.4,255.0) rotate(-90)" font-family="'Liberation Sans', sans-serif" font-size="7.2" fill="#4a4a4a" text-anchor="middle" textLength="21.2" lengthAdjust="spacingAndGlyphs">Events</text>
<polygon points="231.4,293.1 231.4,292.7 234.7,291.1 237.6,289.1 240.5,286.2 243.5,282.3 245.8,275.5 247.4,272.5 249.4,265.7 251.3,258.8 252.9,248.1 253.7,244.1 255.2,237.3 257.2,228.5 258.7,222.6 260.1,221.6 261.5,228.5 262.7,244.1 264.0,261.8 265.4,273.5 267.0,283.3 268.5,290.1 270.1,293.1" fill="#cdcdcd" stroke="#999" stroke-width="0.6" stroke-linejoin="round"/>
<polyline points="231.4,293.1 249.4,292.7 252.3,291.1 255.2,291.9 259.1,291.1 262.1,289.5 264.6,288.2 266.6,286.2 268.1,282.3 269.5,273.5 270.9,261.8 272.4,250.0 273.8,240.2 275.4,237.3 276.4,226.5 277.1,219.1 278.1,226.5 279.3,221.0 280.3,228.5 281.3,240.2 282.2,252.0 283.4,265.7 284.6,277.4 285.8,284.3 286.9,289.5 288.5,292.7 290.5,293.1 310.4,293.1" fill="none" stroke="#6a6a6a" stroke-width="1.3" stroke-linejoin="round" stroke-linecap="round"/>
<polyline points="231.4,293.1 231.5,283.3 232.1,291.1 233.3,292.7 239.6,292.3 241.1,291.1 242.5,292.3 245.0,292.3 247.0,287.2 249.0,281.3 250.9,269.6 252.5,259.8 254.2,252.0 255.8,240.2 257.2,232.4 258.6,224.6 259.7,221.6 260.7,219.1 261.7,224.6 262.7,229.5 264.6,234.4 266.0,242.2 267.4,250.0 268.9,258.8 270.5,267.6 272.1,272.5 274.4,274.5 276.4,278.4 277.9,280.3 279.5,277.8 281.1,279.4 282.6,279.0 284.2,282.3 285.8,284.8 287.7,285.6 288.9,290.1 290.5,293.1" fill="none" stroke="#222" stroke-width="1.6" stroke-linejoin="round" stroke-linecap="round"/>
<rect x="231.4" y="213.9" width="78.99999999999997" height="78.79999999999998" fill="none" stroke="#555" stroke-width="1.1"/>
<line x1="229.6" y1="292.7" x2="231.4" y2="292.7" stroke="#777" stroke-width="0.6"/>
<text x="228.8" y="294.2" font-family="'Liberation Sans', sans-serif" font-size="4.5" font-weight="normal" text-anchor="end" fill="#777" >0</text>
<line x1="229.6" y1="277.7" x2="231.4" y2="277.7" stroke="#777" stroke-width="0.6"/>
<text x="228.8" y="279.2" font-family="'Liberation Sans', sans-serif" font-size="4.5" font-weight="normal" text-anchor="end" fill="#777" >20</text>
<line x1="229.6" y1="262.7" x2="231.4" y2="262.7" stroke="#777" stroke-width="0.6"/>
<text x="228.8" y="264.2" font-family="'Liberation Sans', sans-serif" font-size="4.5" font-weight="normal" text-anchor="end" fill="#777" >40</text>
<line x1="229.6" y1="247.7" x2="231.4" y2="247.7" stroke="#777" stroke-width="0.6"/>
<text x="228.8" y="249.2" font-family="'Liberation Sans', sans-serif" font-size="4.5" font-weight="normal" text-anchor="end" fill="#777" >60</text>
<line x1="229.6" y1="232.7" x2="231.4" y2="232.7" stroke="#777" stroke-width="0.6"/>
<text x="228.8" y="234.2" font-family="'Liberation Sans', sans-serif" font-size="4.5" font-weight="normal" text-anchor="end" fill="#777" >80</text>
<line x1="229.6" y1="217.7" x2="231.4" y2="217.7" stroke="#777" stroke-width="0.6"/>
<text x="228.8" y="219.2" font-family="'Liberation Sans', sans-serif" font-size="4.5" font-weight="normal" text-anchor="end" fill="#777" >100</text>
<line x1="230.4" y1="292.7" x2="231.4" y2="292.7" stroke="#999" stroke-width="0.4"/>
<line x1="230.4" y1="289.7" x2="231.4" y2="289.7" stroke="#999" stroke-width="0.4"/>
<line x1="230.4" y1="286.7" x2="231.4" y2="286.7" stroke="#999" stroke-width="0.4"/>
<line x1="230.4" y1="283.7" x2="231.4" y2="283.7" stroke="#999" stroke-width="0.4"/>
<line x1="230.4" y1="280.7" x2="231.4" y2="280.7" stroke="#999" stroke-width="0.4"/>
<line x1="230.4" y1="277.7" x2="231.4" y2="277.7" stroke="#999" stroke-width="0.4"/>
<line x1="230.4" y1="274.7" x2="231.4" y2="274.7" stroke="#999" stroke-width="0.4"/>
<line x1="230.4" y1="271.7" x2="231.4" y2="271.7" stroke="#999" stroke-width="0.4"/>
<line x1="230.4" y1="268.7" x2="231.4" y2="268.7" stroke="#999" stroke-width="0.4"/>
<line x1="230.4" y1="265.7" x2="231.4" y2="265.7" stroke="#999" stroke-width="0.4"/>
<line x1="230.4" y1="262.7" x2="231.4" y2="262.7" stroke="#999" stroke-width="0.4"/>
<line x1="230.4" y1="259.7" x2="231.4" y2="259.7" stroke="#999" stroke-width="0.4"/>
<line x1="230.4" y1="256.7" x2="231.4" y2="256.7" stroke="#999" stroke-width="0.4"/>
<line x1="230.4" y1="253.7" x2="231.4" y2="253.7" stroke="#999" stroke-width="0.4"/>
<line x1="230.4" y1="250.7" x2="231.4" y2="250.7" stroke="#999" stroke-width="0.4"/>
<line x1="230.4" y1="247.7" x2="231.4" y2="247.7" stroke="#999" stroke-width="0.4"/>
<line x1="230.4" y1="244.7" x2="231.4" y2="244.7" stroke="#999" stroke-width="0.4"/>
<line x1="230.4" y1="241.7" x2="231.4" y2="241.7" stroke="#999" stroke-width="0.4"/>
<line x1="230.4" y1="238.7" x2="231.4" y2="238.7" stroke="#999" stroke-width="0.4"/>
<line x1="230.4" y1="235.7" x2="231.4" y2="235.7" stroke="#999" stroke-width="0.4"/>
<line x1="230.4" y1="232.7" x2="231.4" y2="232.7" stroke="#999" stroke-width="0.4"/>
<line x1="230.4" y1="229.7" x2="231.4" y2="229.7" stroke="#999" stroke-width="0.4"/>
<line x1="230.4" y1="226.7" x2="231.4" y2="226.7" stroke="#999" stroke-width="0.4"/>
<line x1="230.4" y1="223.7" x2="231.4" y2="223.7" stroke="#999" stroke-width="0.4"/>
<line x1="230.4" y1="220.7" x2="231.4" y2="220.7" stroke="#999" stroke-width="0.4"/>
<line x1="230.4" y1="217.7" x2="231.4" y2="217.7" stroke="#999" stroke-width="0.4"/>
<text x="231.1" y="301.1" font-family="'Liberation Sans', sans-serif" font-size="3.8" fill="#808080" text-anchor="middle" font-style="italic">10<tspan dy="-1.9" font-size="3">0</tspan></text>
<text x="250.8" y="301.1" font-family="'Liberation Sans', sans-serif" font-size="3.8" fill="#808080" text-anchor="middle" font-style="italic">10<tspan dy="-1.9" font-size="3">1</tspan></text>
<text x="270.6" y="301.1" font-family="'Liberation Sans', sans-serif" font-size="3.8" fill="#808080" text-anchor="middle" font-style="italic">10<tspan dy="-1.9" font-size="3">2</tspan></text>
<text x="290.3" y="301.1" font-family="'Liberation Sans', sans-serif" font-size="3.8" fill="#808080" text-anchor="middle" font-style="italic">10<tspan dy="-1.9" font-size="3">3</tspan></text>
<text x="310.1" y="301.1" font-family="'Liberation Sans', sans-serif" font-size="3.8" fill="#808080" text-anchor="middle" font-style="italic">10<tspan dy="-1.9" font-size="3">4</tspan></text>
<text transform="translate(218.7,254.6) rotate(-90)" font-family="'Liberation Sans', sans-serif" font-size="7.2" fill="#4a4a4a" text-anchor="middle" textLength="21.2" lengthAdjust="spacingAndGlyphs">Events</text>
<text x="50.8" y="315.1" font-family="'Liberation Serif', serif" font-size="13" font-weight="bold" text-anchor="start" fill="#000" textLength="27.9" lengthAdjust="spacingAndGlyphs"  stroke="#000" stroke-width="0.3">CD40</text>
<text x="152.9" y="314.6" font-family="'Liberation Serif', serif" font-size="13" font-weight="bold" text-anchor="start" fill="#000" textLength="28.4" lengthAdjust="spacingAndGlyphs"  stroke="#000" stroke-width="0.3">CD83</text>
<text x="259.4" y="314.6" font-family="'Liberation Serif', serif" font-size="13" font-weight="bold" text-anchor="start" fill="#000" textLength="28.3" lengthAdjust="spacingAndGlyphs"  stroke="#000" stroke-width="0.3">CD86</text>
<line x1="322.7" y1="233.8" x2="342.4" y2="233.8" stroke="#707070" stroke-width="1.45"/>
<line x1="322.7" y1="249.7" x2="342.4" y2="249.7" stroke="#808080" stroke-width="1.45"/>
<line x1="322.7" y1="265.2" x2="342.4" y2="265.2" stroke="#222" stroke-width="1.7"/>
<text x="348.8" y="235.5" font-family="'Liberation Serif', serif" font-size="11.6" font-weight="normal" text-anchor="start" fill="#000" textLength="58.5" lengthAdjust="spacingAndGlyphs" >unstimulated</text>
<text x="352.4" y="253" font-family="'Liberation Serif', serif" font-size="11.6" font-weight="normal" text-anchor="start" fill="#000" textLength="38.5" lengthAdjust="spacingAndGlyphs" >HTLV-1</text>
<text x="356.1" y="269.3" font-family="'Liberation Serif', serif" font-size="11.6" font-weight="normal" text-anchor="start" fill="#000" textLength="38.7" lengthAdjust="spacingAndGlyphs" >HTLV-1</text>
<text x="358.5" y="283.5" font-family="'Liberation Serif', serif" font-size="11.6" font-weight="normal" text-anchor="start" fill="#000" textLength="37.2" lengthAdjust="spacingAndGlyphs" >+Chloro</text>
<text x="264.5" y="370.8" font-family="'Liberation Serif', serif" font-size="12.5" font-weight="bold" text-anchor="start" fill="#000" textLength="28.5" lengthAdjust="spacingAndGlyphs"  stroke="#000" stroke-width="0.3">10μM</text>
<polygon points="236.3,457.1 239.8,456.1 242.7,454.1 245.3,451.2 247.2,445.3 248.6,443.4 250.0,442.8 251.1,432.6 252.1,417.9 253.1,422.8 254.3,414.0 255.4,405.2 256.6,395.4 257.6,386.6 258.4,379.8 259.2,386.6 260.1,387.6 261.3,385.7 262.3,381.7 263.3,391.5 264.4,407.2 265.6,420.9 267.2,436.5 268.7,447.3 270.3,454.1 272.1,456.7 274.0,457.1" fill="#aaa" stroke="#999" stroke-width="0.6" stroke-linejoin="round"/>
<polyline points="236.3,457.1 241.7,456.1 246.6,454.1 250.5,451.2 254.5,447.9 257.4,443.4 259.7,438.5 261.7,430.7 263.3,422.8 264.8,417.9 266.2,417.0 267.4,407.2 268.6,397.4 269.7,388.6 270.7,387.6 271.7,389.6 272.7,381.7 273.4,379.8 274.4,389.6 275.4,390.5 276.4,388.6 277.4,395.4 278.3,407.2 279.5,420.9 280.9,434.6 282.4,446.3 284.0,453.2 286.4,456.5 288.7,457.1 316.5,457.1" fill="none" stroke="#777" stroke-width="2.2" stroke-linejoin="round" stroke-linecap="round"/>
<polyline points="236.3,457.1 239.8,456.7 243.7,455.1 247.6,452.2 250.5,449.8 253.1,448.7 255.0,445.3 257.0,440.5 259.0,431.6 260.5,418.9 261.9,405.2 263.3,389.6 264.2,381.7 265.0,379.4 266.0,383.7 267.2,395.4 268.4,407.2 269.7,417.0 271.1,428.7 272.7,438.5 274.6,447.3 277.0,452.6 279.9,455.7 282.8,457.1 316.5,457.1" fill="none" stroke="#444" stroke-width="2.3" stroke-linejoin="round" stroke-linecap="round"/>
<rect x="236.4" y="377.8" width="79.99999999999997" height="79.19999999999999" fill="none" stroke="#8a8a8a" stroke-width="0.9"/>
<line x1="234.6" y1="457.0" x2="236.4" y2="457.0" stroke="#777" stroke-width="0.6"/>
<text x="233.8" y="458.5" font-family="'Liberation Sans', sans-serif" font-size="4.5" font-weight="normal" text-anchor="end" fill="#777" >0</text>
<line x1="234.6" y1="441.9" x2="236.4" y2="441.9" stroke="#777" stroke-width="0.6"/>
<text x="233.8" y="443.4" font-family="'Liberation Sans', sans-serif" font-size="4.5" font-weight="normal" text-anchor="end" fill="#777" >20</text>
<line x1="234.6" y1="426.8" x2="236.4" y2="426.8" stroke="#777" stroke-width="0.6"/>
<text x="233.8" y="428.3" font-family="'Liberation Sans', sans-serif" font-size="4.5" font-weight="normal" text-anchor="end" fill="#777" >40</text>
<line x1="234.6" y1="411.8" x2="236.4" y2="411.8" stroke="#777" stroke-width="0.6"/>
<text x="233.8" y="413.3" font-family="'Liberation Sans', sans-serif" font-size="4.5" font-weight="normal" text-anchor="end" fill="#777" >60</text>
<line x1="234.6" y1="396.7" x2="236.4" y2="396.7" stroke="#777" stroke-width="0.6"/>
<text x="233.8" y="398.2" font-family="'Liberation Sans', sans-serif" font-size="4.5" font-weight="normal" text-anchor="end" fill="#777" >80</text>
<line x1="234.6" y1="381.6" x2="236.4" y2="381.6" stroke="#777" stroke-width="0.6"/>
<text x="233.8" y="383.1" font-family="'Liberation Sans', sans-serif" font-size="4.5" font-weight="normal" text-anchor="end" fill="#777" >100</text>
<line x1="235.4" y1="457.0" x2="236.4" y2="457.0" stroke="#999" stroke-width="0.4"/>
<line x1="235.4" y1="454.0" x2="236.4" y2="454.0" stroke="#999" stroke-width="0.4"/>
<line x1="235.4" y1="451.0" x2="236.4" y2="451.0" stroke="#999" stroke-width="0.4"/>
<line x1="235.4" y1="448.0" x2="236.4" y2="448.0" stroke="#999" stroke-width="0.4"/>
<line x1="235.4" y1="444.9" x2="236.4" y2="444.9" stroke="#999" stroke-width="0.4"/>
<line x1="235.4" y1="441.9" x2="236.4" y2="441.9" stroke="#999" stroke-width="0.4"/>
<line x1="235.4" y1="438.9" x2="236.4" y2="438.9" stroke="#999" stroke-width="0.4"/>
<line x1="235.4" y1="435.9" x2="236.4" y2="435.9" stroke="#999" stroke-width="0.4"/>
<line x1="235.4" y1="432.9" x2="236.4" y2="432.9" stroke="#999" stroke-width="0.4"/>
<line x1="235.4" y1="429.9" x2="236.4" y2="429.9" stroke="#999" stroke-width="0.4"/>
<line x1="235.4" y1="426.8" x2="236.4" y2="426.8" stroke="#999" stroke-width="0.4"/>
<line x1="235.4" y1="423.8" x2="236.4" y2="423.8" stroke="#999" stroke-width="0.4"/>
<line x1="235.4" y1="420.8" x2="236.4" y2="420.8" stroke="#999" stroke-width="0.4"/>
<line x1="235.4" y1="417.8" x2="236.4" y2="417.8" stroke="#999" stroke-width="0.4"/>
<line x1="235.4" y1="414.8" x2="236.4" y2="414.8" stroke="#999" stroke-width="0.4"/>
<line x1="235.4" y1="411.8" x2="236.4" y2="411.8" stroke="#999" stroke-width="0.4"/>
<line x1="235.4" y1="408.7" x2="236.4" y2="408.7" stroke="#999" stroke-width="0.4"/>
<line x1="235.4" y1="405.7" x2="236.4" y2="405.7" stroke="#999" stroke-width="0.4"/>
<line x1="235.4" y1="402.7" x2="236.4" y2="402.7" stroke="#999" stroke-width="0.4"/>
<line x1="235.4" y1="399.7" x2="236.4" y2="399.7" stroke="#999" stroke-width="0.4"/>
<line x1="235.4" y1="396.7" x2="236.4" y2="396.7" stroke="#999" stroke-width="0.4"/>
<line x1="235.4" y1="393.7" x2="236.4" y2="393.7" stroke="#999" stroke-width="0.4"/>
<line x1="235.4" y1="390.6" x2="236.4" y2="390.6" stroke="#999" stroke-width="0.4"/>
<line x1="235.4" y1="387.6" x2="236.4" y2="387.6" stroke="#999" stroke-width="0.4"/>
<line x1="235.4" y1="384.6" x2="236.4" y2="384.6" stroke="#999" stroke-width="0.4"/>
<line x1="235.4" y1="381.6" x2="236.4" y2="381.6" stroke="#999" stroke-width="0.4"/>
<text x="236.1" y="465.4" font-family="'Liberation Sans', sans-serif" font-size="3.8" fill="#808080" text-anchor="middle" font-style="italic">10<tspan dy="-1.9" font-size="3">0</tspan></text>
<text x="256.1" y="465.4" font-family="'Liberation Sans', sans-serif" font-size="3.8" fill="#808080" text-anchor="middle" font-style="italic">10<tspan dy="-1.9" font-size="3">1</tspan></text>
<text x="276.1" y="465.4" font-family="'Liberation Sans', sans-serif" font-size="3.8" fill="#808080" text-anchor="middle" font-style="italic">10<tspan dy="-1.9" font-size="3">2</tspan></text>
<text x="296.1" y="465.4" font-family="'Liberation Sans', sans-serif" font-size="3.8" fill="#808080" text-anchor="middle" font-style="italic">10<tspan dy="-1.9" font-size="3">3</tspan></text>
<text x="316.1" y="465.4" font-family="'Liberation Sans', sans-serif" font-size="3.8" fill="#808080" text-anchor="middle" font-style="italic">10<tspan dy="-1.9" font-size="3">4</tspan></text>
<text transform="translate(224.6,416.9) rotate(-90)" font-family="'Liberation Sans', sans-serif" font-size="7.2" fill="#4a4a4a" text-anchor="middle" textLength="21.2" lengthAdjust="spacingAndGlyphs">Events</text>
<text x="257.3" y="480" font-family="'Liberation Serif', serif" font-size="12" font-weight="bold" text-anchor="start" fill="#000" textLength="36.4" lengthAdjust="spacingAndGlyphs"  stroke="#000" stroke-width="0.3">TRAIL</text>
<line x1="332.3" y1="384.6" x2="351.5" y2="384.6" stroke="#777" stroke-width="1.4"/>
<line x1="332.3" y1="401" x2="351.5" y2="401" stroke="#888" stroke-width="1.4"/>
<line x1="332.3" y1="415.7" x2="351.5" y2="415.7" stroke="#333" stroke-width="2.0"/>
<text x="357.9" y="386" font-family="'Liberation Serif', serif" font-size="11.6" font-weight="normal" text-anchor="start" fill="#000" textLength="58.1" lengthAdjust="spacingAndGlyphs" >unstimulated</text>
<text x="361.5" y="403.8" font-family="'Liberation Serif', serif" font-size="11.6" font-weight="normal" text-anchor="start" fill="#000" textLength="38.8" lengthAdjust="spacingAndGlyphs" >HTLV-1</text>
<text x="361.5" y="419.3" font-family="'Liberation Serif', serif" font-size="11.6" font-weight="normal" text-anchor="start" fill="#000" textLength="38.8" lengthAdjust="spacingAndGlyphs" >HTLV-1</text>
<text x="365.2" y="434" font-family="'Liberation Serif', serif" font-size="11.6" font-weight="normal" text-anchor="start" fill="#000" textLength="30.1" lengthAdjust="spacingAndGlyphs" >+A151</text>
</g></svg></body></html>
